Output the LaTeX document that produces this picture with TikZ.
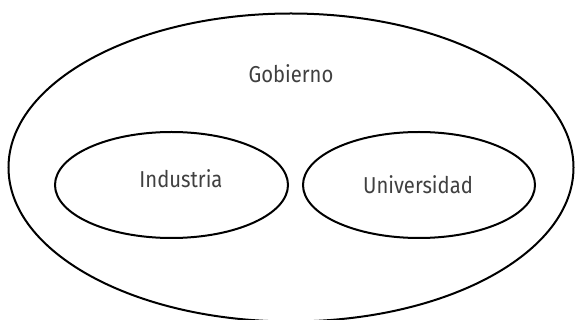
\documentclass[tikz,border=0pt]{standalone}
\usepackage{fontspec}
\setmainfont{Fira Sans}[FakeStretch=0.88]
\usetikzlibrary{shapes.geometric, positioning}

\begin{document}
\begin{tikzpicture}[
	x=1pt, y=-1pt, % pixel coordinates, y going down
	conjunto/.style={draw, ellipse, line width=2pt, inner sep=0pt}, % the sets
	etiqueta/.style={anchor=base, text=black!75, font=\fontsize{23}{26}\selectfont}, % the set names
	]
	\useasboundingbox (0,0) rectangle (575,320);
	\node[conjunto, minimum width=565pt, minimum height=308pt] (gob) at (291,167.5) {};
	\node[conjunto, minimum width=233pt, minimum height=106pt] (ind) at (171.5,185) {};
	\node[conjunto, minimum width=232pt, minimum height=106pt] (uni) at (419,185) {};
	\node[etiqueta] (tgob) at (291,83) {Gobierno};
	\node[etiqueta] (tind) at (181,188) {Industria};
	\node[etiqueta] (tuni) at (418,194) {Universidad};
\end{tikzpicture}
\end{document}
